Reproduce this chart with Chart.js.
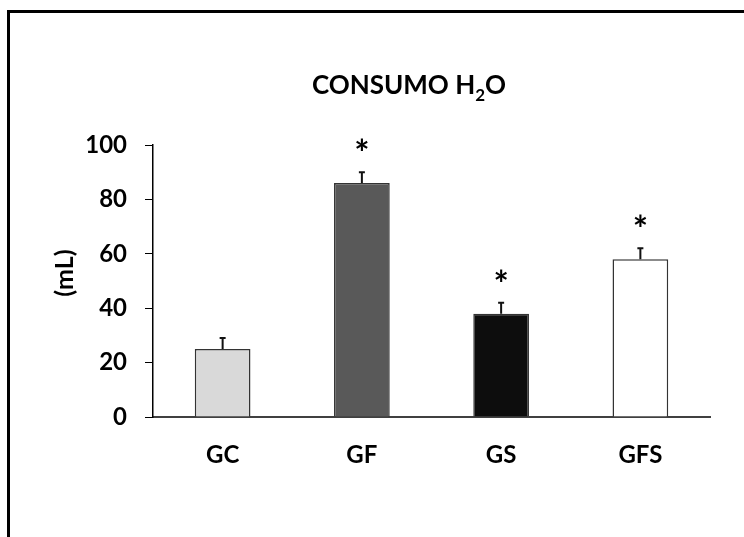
<!DOCTYPE html>
<html>
<head>
<meta charset="utf-8">
<script src="https://cdn.jsdelivr.net/npm/chart.js@4.4.1/dist/chart.umd.min.js"></script>
<style>
  html, body { margin: 0; padding: 0; background: #fff; }
  #wrap { position: relative; width: 744px; height: 537px; overflow: hidden; }
  #frame {
    position: absolute; left: 7px; top: 10px; right: -10px; bottom: -10px;
    border-top: 3px solid #000; border-left: 3px solid #000;
  }
  canvas { position: absolute; left: 0; top: 0; }
</style>
</head>
<body>
<div id="wrap">
  <div id="frame"></div>
  <canvas id="chart" width="744" height="537"></canvas>
</div>
<script>
// data
const groups = ['GC', 'GF', 'GS', 'GFS'];
const consumo = [25, 86, 38, 58];
const errores = [4, 4, 4, 4];
const significativo = [false, true, true, true];
const colores = ['#d9d9d9', '#595959', '#0d0d0d', '#ffffff'];
const titulo = ['CONSUMO H', '2', 'O'];
const yTitulo = '(mL)';

const FONT = 'Lato, "Open Sans", sans-serif';

// error bars + asterisks
const extras = {
  id: 'extras',
  afterDatasetsDraw(chart) {
    const ctx = chart.ctx;
    const meta = chart.getDatasetMeta(0);
    const y = chart.scales.y;
    ctx.save();
    meta.data.forEach((bar, i) => {
      const top = y.getPixelForValue(consumo[i]);
      const errTop = y.getPixelForValue(consumo[i] + errores[i]);
      ctx.strokeStyle = '#111';
      ctx.lineWidth = 2;
      ctx.beginPath();
      ctx.moveTo(bar.x, top);
      ctx.lineTo(bar.x, errTop);
      ctx.moveTo(bar.x - 3, errTop);
      ctx.lineTo(bar.x + 3, errTop);
      ctx.stroke();
      if (significativo[i]) {
        ctx.fillStyle = '#000';
        ctx.font = 'bold 36px ' + FONT;
        ctx.textAlign = 'center';
        ctx.textBaseline = 'alphabetic';
        ctx.fillText('*', bar.x, errTop - 6);
      }
    });
    ctx.restore();
  }
};

// title with subscript, y title a bit above the axis middle
const tituloPlugin = {
  id: 'tituloPlugin',
  afterDraw(chart) {
    const ctx = chart.ctx;
    ctx.save();
    ctx.fillStyle = '#000';
    ctx.textBaseline = 'alphabetic';
    ctx.textAlign = 'left';
    const big = 'bold 26px ' + FONT;
    const small = 'bold 17px ' + FONT;
    ctx.font = big;
    const w1 = ctx.measureText(titulo[0]).width;
    const w3 = ctx.measureText(titulo[2]).width;
    ctx.font = small;
    const w2 = ctx.measureText(titulo[1]).width;
    let x = 409 - (w1 + w2 + w3) / 2;
    const base = 94;
    ctx.font = big;
    ctx.fillText(titulo[0], x, base);
    x += w1;
    ctx.font = small;
    ctx.fillText(titulo[1], x, base + 7);
    x += w2;
    ctx.font = big;
    ctx.fillText(titulo[2], x, base);

    ctx.translate(65, 273);
    ctx.rotate(-Math.PI / 2);
    ctx.font = 'bold 25px ' + FONT;
    ctx.textAlign = 'center';
    ctx.textBaseline = 'middle';
    ctx.fillText(yTitulo, 0, 0);
    ctx.restore();
  }
};

new Chart(document.getElementById('chart'), {
  type: 'bar',
  data: {
    labels: groups,
    datasets: [{
      data: consumo,
      backgroundColor: colores,
      borderColor: '#333',
      borderWidth: 1.5,
      barPercentage: 0.4,
      categoryPercentage: 1.0
    }]
  },
  options: {
    responsive: false,
    animation: false,
    layout: { padding: { left: 36, top: 145, right: 34, bottom: 60 } },
    plugins: {
      legend: { display: false },
      tooltip: { enabled: false },
      title: { display: false }
    },
    scales: {
      x: {
        grid: { display: true, drawOnChartArea: false, drawTicks: false },
        border: { display: true, color: '#404040', width: 2 },
        ticks: {
          color: '#000',
          padding: 24,
          font: { family: FONT, size: 24, weight: 'bold' }
        },
        afterFit(scale) { scale.height = 60; }
      },
      y: {
        min: 0,
        max: 100,
        grid: { display: true, drawOnChartArea: false, drawTicks: true, tickLength: 8, color: '#000', lineWidth: 1 },
        border: { display: true, color: '#000', width: 1.5 },
        ticks: {
          stepSize: 10,
          color: '#000',
          padding: 18,
          font: { family: FONT, size: 24, weight: 'bold' },
          callback: (v) => (v % 20 === 0 ? v : '')
        },
        afterFit(scale) { scale.width = 117; }
      }
    }
  },
  plugins: [extras, tituloPlugin]
});
</script>
</body>
</html>
